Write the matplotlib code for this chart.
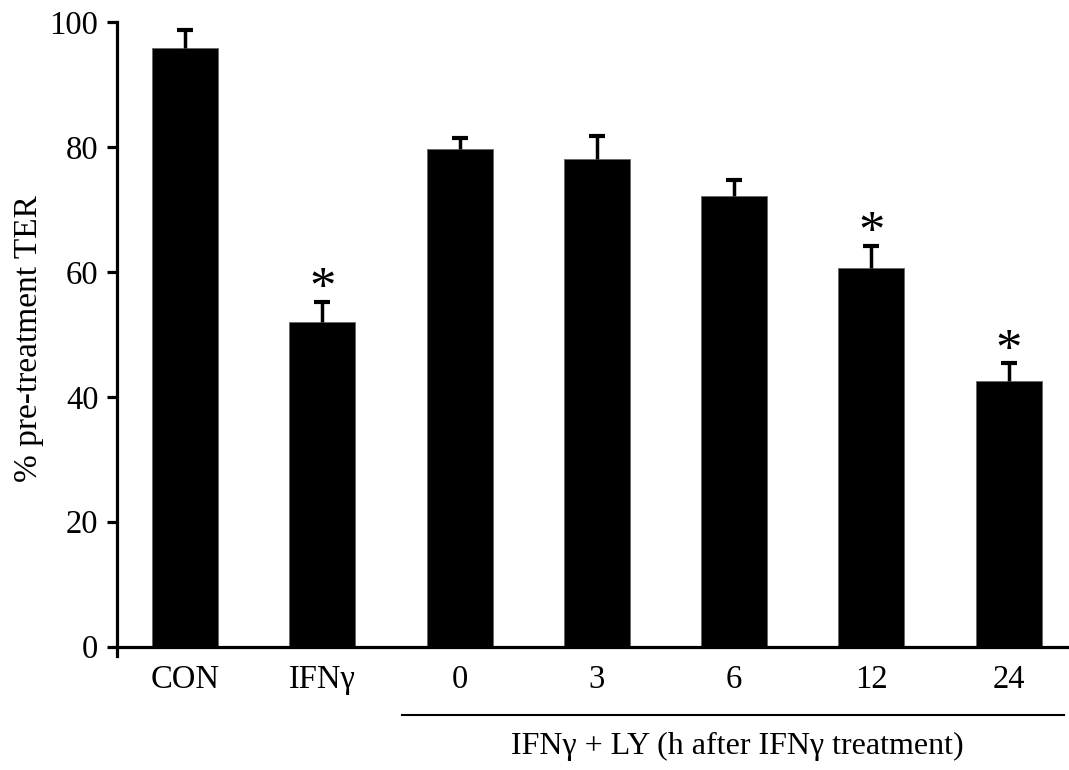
import numpy as np
import matplotlib
matplotlib.use("Agg")
import matplotlib.pyplot as plt

plt.rcParams['font.family'] = ['Liberation Serif', 'DejaVu Serif']

# TER data, % of pre-treatment value (mean and SEM)
groups = ['CON', 'IFNγ', '0', '3', '6', '12', '24']
ter_mean = [95.9, 51.9, 79.7, 78.1, 72.1, 60.7, 42.5]
ter_sem = [2.8, 3.3, 1.7, 3.7, 2.6, 3.5, 2.9]
signif = [False, True, False, False, False, True, True]

x = np.arange(len(groups))

fig = plt.figure(figsize=(10.69, 7.70), dpi=100)
ax = fig.add_axes([0.109, 0.148, 0.891, 0.8234])

bars = ax.bar(x, ter_mean, width=0.48, color='black', edgecolor='#666666', linewidth=0.6,
              yerr=[np.zeros(len(x)), ter_sem], capsize=6,
              error_kw=dict(elinewidth=2.5, capthick=3, ecolor='black'))
# only the upper cap is wanted
bars.errorbar.lines[1][0].set_visible(False)

# asterisks above the error bars
for xi, m, s, sig in zip(x, ter_mean, ter_sem, signif):
    if sig:
        ax.annotate('*', xy=(xi, m + s), xytext=(0, -9), textcoords='offset points',
                    ha='center', va='bottom', fontsize=38)

ax.set_xlim(-0.5, 6.44)
ax.set_ylim(-1.5, 100)
ax.set_yticks([0, 20, 40, 60, 80, 100])
ax.set_xticks(x)
ax.set_xticklabels(groups)

for side in ['top', 'right']:
    ax.spines[side].set_visible(False)
ax.spines['bottom'].set_position(('data', 0))
ax.spines['left'].set_linewidth(2.3)
ax.spines['bottom'].set_linewidth(2.3)

ax.tick_params(axis='y', direction='out', length=7, width=2.3, labelsize=23.5, pad=6)
ax.tick_params(axis='x', length=0, labelsize=23.5, pad=13)

ax.set_ylabel('% pre-treatment TER', fontsize=24, labelpad=4)

# bracket line and label for the LY time-course groups
tr = ax.get_xaxis_transform()
ax.plot([1.58, 6.40], [-0.093, -0.093], color='black', linewidth=1.5,
        transform=tr, clip_on=False)
ax.text(4.02, -0.142, 'IFNγ + LY (h after IFNγ treatment)', transform=tr,
        ha='center', va='center', fontsize=23)

fig.savefig('out.png', dpi=100)
